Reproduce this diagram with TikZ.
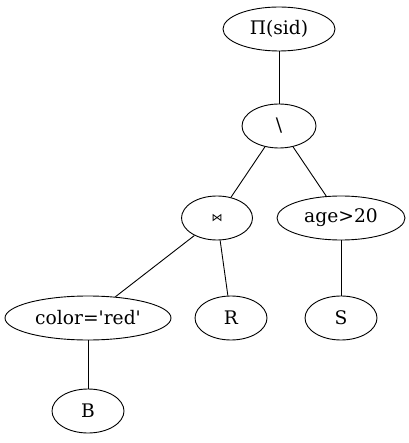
\documentclass[tikz,border=0pt]{standalone}
\usepackage{fontspec}
\setmainfont{DejaVu Serif}
\newfontfamily\symfont{DejaVu Sans}
\usetikzlibrary{shapes.geometric}
\tikzset{
  op/.style={draw, ellipse, line width=0.9pt, inner sep=0pt, font=\fontsize{18.67}{22}\selectfont},
  edge/.style={line width=0.9pt}
}
\begin{document}
\begin{tikzpicture}[x=1pt,y=-1pt]
\useasboundingbox (0,0) rectangle (408,443);
\node[op, minimum width=112pt, minimum height=44pt] (pi) at (279,29) {Π(sid)};
\node[op, minimum width=74pt, minimum height=44pt] (minus) at (279,126) {\textbackslash};
\node[op, minimum width=71pt, minimum height=44pt] (join) at (217,218) {\symfont\fontsize{11}{13}\selectfont ⋈};
\node[op, minimum width=128pt, minimum height=44pt] (age) at (341,218) {age>20};
\node[op, minimum width=166pt, minimum height=44pt] (color) at (88,318) {color=\textquotesingle red\textquotesingle};
\node[op, minimum width=72pt, minimum height=44pt] (r) at (231,318) {R};
\node[op, minimum width=72pt, minimum height=44pt] (s) at (341,318) {S};
\node[op, minimum width=72pt, minimum height=44pt] (b) at (88,411) {B};
\draw[edge] (pi) -- (minus);
\draw[edge] (minus) -- (join);
\draw[edge] (minus) -- (age);
\draw[edge] (join) -- (color);
\draw[edge] (join) -- (r);
\draw[edge] (age) -- (s);
\draw[edge] (color) -- (b);
\end{tikzpicture}
\end{document}
